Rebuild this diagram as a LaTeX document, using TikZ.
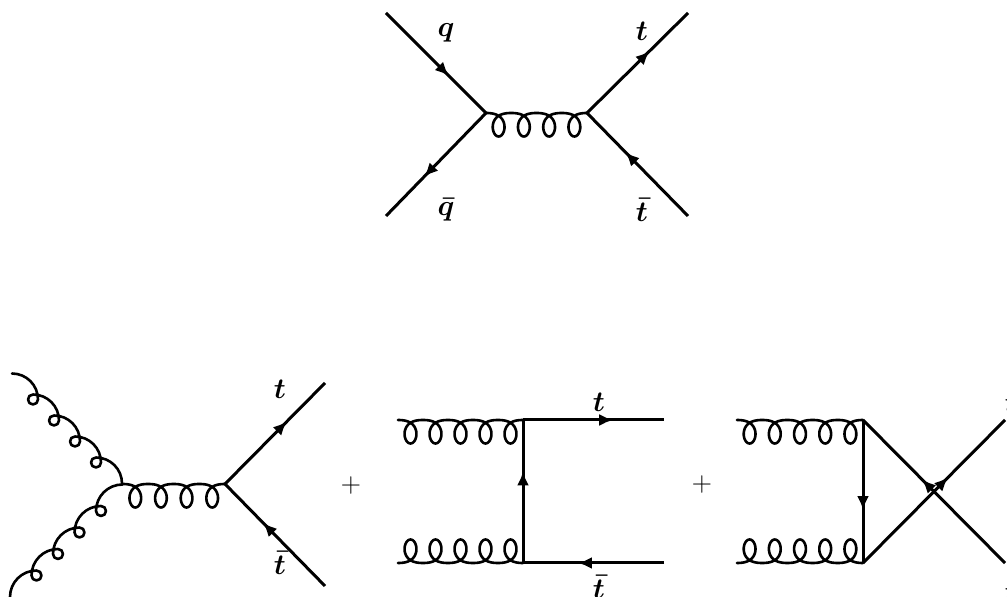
\documentclass[tikz,border=0pt]{standalone}
\usepackage{fix-cm}
\usetikzlibrary{arrows.meta,decorations.markings,calc}
\tikzset{
  x=1pt,y=1pt,
  fermion/.style={line width=3pt,postaction={decorate},
    decoration={markings,mark=at position #1 with {\arrow{Latex[length=14pt,width=12pt]}}}},
  gluonline/.style={line width=2.6pt,line cap=round,line join=round},
  lab/.style={font=\fontsize{29}{34}\selectfont\boldmath,inner sep=0pt},
  plus/.style={font=\fontsize{28}{32}\selectfont,inner sep=0pt}
}
% horizontal gluon from #1 to #2 with #3 loops; #4 = -1 loops below, 1 loops above
\newcommand{\gluonh}[4]{%
  \draw[gluonline] let \p1=(#1),\p2=(#2) in
    plot[domain=0:360*#3,samples=40*#3+1,variable=\t]
    ({\x1+(\x2-\x1)*(\t/(360*#3))+11.5*sin(\t)},
     {\y1+(#4)*23.5*(0.5*abs(1-cos(\t)))*(0.35+0.65*sqrt(0.5*abs(1-cos(\t))))});}
\begin{document}
\begin{tikzpicture}
\useasboundingbox (0,0) rectangle (1007,597);
% top diagram
\coordinate (a1) at (386,584); \coordinate (a2) at (386,381);
\coordinate (a3) at (688,584); \coordinate (a4) at (688,381);
\coordinate (av) at (486,484); \coordinate (aw) at (587,484);
\draw[fermion=0.63] (a1) -- (av);
\draw[fermion=0.62] (av) -- (a2);
\draw[fermion=0.62] (aw) -- (a3);
\draw[fermion=0.62] (a4) -- (aw);
\gluonh{av}{aw}{4}{-1}
\node[lab] (lq) at (446,564) {$q$};
\node[lab] (lt) at (642,566) {$t$};
\node[lab] (lqb) at (446,387) {$\bar q$};
\node[lab] (ltb) at (642,387) {$\bar t$};
% bottom left
\coordinate (bs1) at (12,223.5); \coordinate (bs2) at (10,0);
\coordinate (bg) at (122.5,113); \coordinate (bv) at (225,113);
\coordinate (b3) at (325,214); \coordinate (b4) at (325,11);
\draw[gluonline] (bs1) arc[start angle=90,end angle=0,radius=26pt]
  \foreach \i in {1,2,3,4}{ arc[start angle=0,end angle=-270,radius=5pt]
  arc[start angle=90,end angle=0,radius=26pt]};
\draw[gluonline] (bs2) arc[start angle=180,end angle=90,radius=26.5pt]
  \foreach \i in {1,2,3,4}{ arc[start angle=90,end angle=-180,radius=5pt]
  arc[start angle=180,end angle=90,radius=26.5pt]};
\gluonh{bg}{bv}{4}{-1}
\draw[fermion=0.62] (bv) -- (b3);
\draw[fermion=0.62] (b4) -- (bv);
\node[lab] (lt2) at (280,208) {$t$};
\node[lab] (ltb2) at (280,34) {$\bar t$};
\node[plus] (p1) at (351,111) {$+$};
% box
\coordinate (c1) at (398,177); \coordinate (c2) at (398,34);
\coordinate (cu) at (523,177); \coordinate (cd) at (523,34);
\coordinate (c3) at (664,177); \coordinate (c4) at (664,34);
\gluonh{c1}{cu}{5}{-1}
\gluonh{c2}{cd}{5}{1}
\draw[fermion=0.64] (cu) -- (c3);
\draw[fermion=0.61] (c4) -- (cd);
\draw[fermion=0.64] (cd) -- (cu);
\node[lab] (lt3) at (599,195) {$t$};
\node[lab] (ltb3) at (599,10) {$\bar t$};
\node[plus] (p2) at (702,112) {$+$};
% crossed
\coordinate (d1) at (737,177); \coordinate (d2) at (737,34);
\coordinate (du) at (863,177); \coordinate (dd) at (863,34);
\coordinate (d3) at (1005,177); \coordinate (d4) at (1005,34);
\gluonh{d1}{du}{5}{-1}
\gluonh{d2}{dd}{5}{1}
\draw[fermion=0.63] (du) -- (dd);
\draw[fermion=0.6] (dd) -- (d3);
\draw[fermion=0.585] (d4) -- (du);
\node[lab] (lt4) at (1011,194) {$t$};
\node[lab] (ltb4) at (1011,7) {$\bar t$};
\end{tikzpicture}
\end{document}
